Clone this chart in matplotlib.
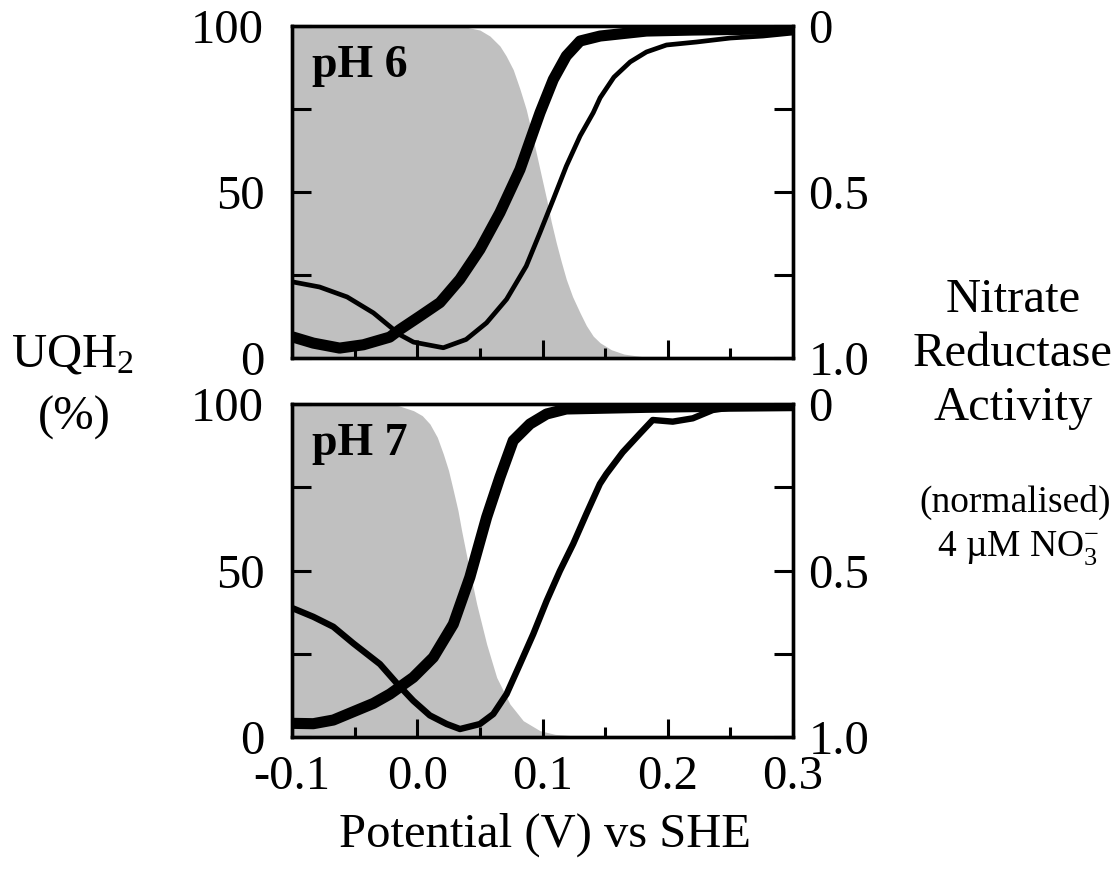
import matplotlib
matplotlib.use("Agg")
import matplotlib.pyplot as plt

plt.rcParams['font.family'] = ['Liberation Serif', 'DejaVu Serif']
plt.rcParams['mathtext.fontset'] = 'custom'
plt.rcParams['mathtext.rm'] = 'Liberation Serif'
plt.rcParams['mathtext.it'] = 'Liberation Serif:italic'
plt.rcParams['axes.unicode_minus'] = False

# ---------------- data ----------------
# UQH2 (%) shaded profiles (left axis)
gray6_x = [-0.1, 0.02, 0.04, 0.05, 0.058, 0.066, 0.071, 0.0766, 0.082, 0.087, 0.091, 0.095, 0.099,
           0.1033, 0.107, 0.111, 0.115, 0.119, 0.124, 0.130, 0.135, 0.1405, 0.146, 0.155, 0.165,
           0.18, 0.2, 0.22, 0.3]
gray6_y = [100, 100, 99.6, 98.8, 97, 94, 91, 86.9, 81, 74.9, 68.5, 61.8, 55,
           47.8, 41, 34.7, 29, 23.7, 18.5, 13.6, 9.8, 6.6, 4.6, 2.5, 1.2,
           0.4, 0.1, 0, 0]

gray7_x = [-0.1, -0.03, -0.015, -0.003, 0.004, 0.0101, 0.016, 0.0208, 0.025, 0.0288, 0.0325, 0.0354,
           0.0407, 0.0474, 0.0554, 0.0634, 0.074, 0.0846, 0.098, 0.11, 0.13, 0.15, 0.3]
gray7_y = [100, 100, 99.5, 98, 96.5, 94, 90, 85, 80, 74, 68, 62,
           52, 40, 27.9, 17.9, 9.9, 4.9, 1.9, 0.8, 0.2, 0, 0]

# Nitrate reductase activity (right axis, normalised)
thick6_x = [-0.099, -0.083, -0.062, -0.043, -0.022, -0.0138, 0.0021, 0.0181, 0.034, 0.050, 0.066,
            0.082, 0.098, 0.1086, 0.119, 0.130, 0.146, 0.183, 0.22, 0.26, 0.30]
thick6_a = [0.937, 0.955, 0.970, 0.960, 0.937, 0.914, 0.874, 0.833, 0.763, 0.673, 0.562,
            0.432, 0.261, 0.161, 0.090, 0.045, 0.030, 0.015, 0.012, 0.010, 0.008]

thin6_x = [-0.099, -0.078, -0.056, -0.035, -0.0138, -0.003, 0.0208, 0.039, 0.0553, 0.0713, 0.087,
           0.098, 0.1086, 0.119, 0.130, 0.1405, 0.146, 0.157, 0.170, 0.183, 0.199, 0.223, 0.250,
           0.276, 0.300]
thin6_a = [0.771, 0.786, 0.816, 0.864, 0.930, 0.952, 0.969, 0.944, 0.894, 0.823, 0.723,
           0.622, 0.522, 0.422, 0.331, 0.261, 0.216, 0.154, 0.108, 0.078, 0.057, 0.048, 0.036,
           0.030, 0.021]

thick7_x = [-0.099, -0.083, -0.067, -0.051, -0.035, -0.0218, -0.0032, 0.0128, 0.0288, 0.042, 0.0554,
            0.066, 0.0766, 0.090, 0.1033, 0.119, 0.157, 0.183, 0.24, 0.30]
thick7_a = [0.959, 0.960, 0.949, 0.924, 0.899, 0.871, 0.821, 0.761, 0.661, 0.520, 0.340,
            0.220, 0.110, 0.060, 0.030, 0.015, 0.012, 0.010, 0.007, 0.005]

thin7_x = [-0.099, -0.083, -0.067, -0.051, -0.0298, -0.016, -0.0032, 0.010, 0.0235, 0.0341, 0.050,
           0.0607, 0.0713, 0.082, 0.0926, 0.1033, 0.1139, 0.1245, 0.135, 0.1458, 0.151, 0.164,
           0.178, 0.188, 0.204, 0.220, 0.236, 0.255]
thin7_a = [0.614, 0.639, 0.669, 0.719, 0.781, 0.840, 0.891, 0.935, 0.961, 0.976, 0.961,
           0.931, 0.871, 0.781, 0.691, 0.591, 0.501, 0.420, 0.330, 0.240, 0.210, 0.145,
           0.088, 0.048, 0.053, 0.043, 0.018, 0.008]

x_ticks = [-0.1, 0.0, 0.1, 0.2, 0.3]
x_ticklabels = ['-0.1', '0.0', '0.1', '0.2', '0.3']
x_minor = [-0.05, 0.05, 0.15, 0.25]
left_ticks = [0, 25, 50, 75, 100]
left_labels = ['0', '', '50', '', '100']
right_ticks = [0, 0.25, 0.5, 0.75, 1.0]
right_labels = ['0', '', '0.5', '', '1.0']

GRAY = '#c0c0c0'
FS = 35

fig = plt.figure(figsize=(11.18, 8.72), dpi=100)
ax_top = fig.add_axes([0.2612, 0.5894, 0.4481, 0.3807])
ax_bot = fig.add_axes([0.2612, 0.1548, 0.4481, 0.3819])

panels = [
    (ax_top, gray6_x, gray6_y, thick6_x, thick6_a, thin6_x, thin6_a, 'pH 6', 3.4, False),
    (ax_bot, gray7_x, gray7_y, thick7_x, thick7_a, thin7_x, thin7_a, 'pH 7', 4.6, True),
]

for ax, gx, gy, tkx, tka, tnx, tna, lab, thin_lw, show_x in panels:
    ax.fill_between(gx, gy, 0, color=GRAY, lw=0, zorder=1)
    ax.set_xlim(-0.1, 0.3)
    ax.set_ylim(0, 100)
    ax.set_xticks(x_ticks)
    ax.set_xticks(x_minor, minor=True)
    ax.set_yticks(left_ticks)
    ax.set_yticklabels(left_labels)
    if show_x:
        ax.set_xticklabels(x_ticklabels)
    else:
        ax.set_xticklabels([])
    ax.tick_params(axis='y', which='both', direction='in', length=13.5, width=2.2,
                   labelsize=FS, pad=20, left=True, right=False)
    ax.tick_params(axis='x', which='major', direction='in', length=13, width=2.2,
                   labelsize=FS, pad=13, top=False)
    ax.tick_params(axis='x', which='minor', direction='in', length=7, width=2.2, top=False)
    for s in ax.spines.values():
        s.set_linewidth(2.4)

    tw = ax.twinx()
    tw.set_ylim(1.0, 0.0)
    tw.set_yticks(right_ticks)
    tw.set_yticklabels(right_labels)
    tw.tick_params(axis='y', direction='in', length=13.5, width=2.2, labelsize=FS, pad=11)
    for s in tw.spines.values():
        s.set_linewidth(2.4)
    tw.plot(tnx, tna, color='black', lw=thin_lw, solid_capstyle='round', solid_joinstyle='round',
            zorder=3)
    tw.plot(tkx, tka, color='black', lw=8, solid_capstyle='round', solid_joinstyle='round',
            zorder=4)
    ax.text(0.04, 0.846, lab, transform=ax.transAxes, fontsize=33, fontweight='bold',
            va='baseline', ha='left', zorder=5)

fig.text(545 / 1118, 1 - 835 / 872, 'Potential (V) vs SHE', fontsize=FS, ha='center', va='center')
fig.text(72 / 1118, 1 - 355 / 872, 'UQH$_2$', fontsize=FS, ha='center', va='center')
fig.text(74 / 1118, 1 - 418 / 872, '(%)', fontsize=FS, ha='center', va='center')
fig.text(1013 / 1118, 1 - 354 / 872, 'Nitrate\nReductase\nActivity', fontsize=FS, ha='center',
         va='center', linespacing=1.3, multialignment='center')
fig.text(1015 / 1118, 1 - 502 / 872, '(normalised)', fontsize=27, ha='center', va='center')
fig.text(1018 / 1118, 1 - 548 / 872, '4 \u00b5M NO$_3^{-}$', fontsize=27, ha='center', va='center')

fig.savefig('out.png', dpi=100)
